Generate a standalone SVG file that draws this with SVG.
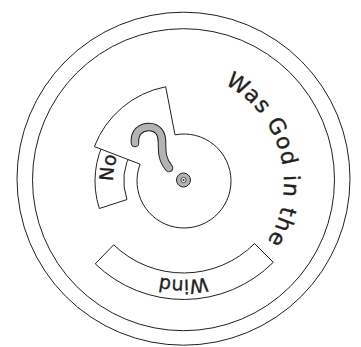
<svg xmlns="http://www.w3.org/2000/svg" width="361" height="347" viewBox="0 0 361 347">
<style>
.ln{fill:#fff;stroke:#231f20;stroke-width:1}
.ring{fill:none;stroke:#231f20;stroke-width:1}
.t{font-family:"DejaVu Sans","Liberation Sans",sans-serif;fill:#231f20;stroke:#231f20;stroke-width:0.35}
</style>
<defs>
<path id="pWas" d="M224.58,84.11 A112,112 0 0 1 228,279.99"/>
<path id="pWind" d="M291,172.5 A107.5,107.5 0 0 1 76,172.5"/>
<path id="pNo" d="M125.84,221.72 A71,71 0 0 1 143.28,122.84"/>
</defs>
<rect width="361" height="347" fill="#fff"/>
<g id="outer-ring">
<circle class="ring" cx="183.5" cy="178.7" r="166.5"/>
<circle class="ring" cx="183.5" cy="179.7" r="151"/>
</g>
<g id="title">
<text class="t" font-size="22" letter-spacing="1.2"><textPath href="#pWas">Was God in the</textPath></text>
</g>
<g id="wind-window">
<path class="ln" d="M273.3,262.3 A127,127 0 0 1 95.28,263.85 L113.69,244.79 A100.5,100.5 0 0 0 254.56,243.56 Z"/>
<text class="t" font-size="19" text-anchor="middle"><textPath href="#pWind" startOffset="50%">Wind</textPath></text>
</g>
<g id="no-window">
<path class="ln" d="M99.35,208.5 A89,89 0 0 1 106.92,136.5 L132.04,151 A60,60 0 0 0 126.93,199.54 Z"/>
<text class="t" font-size="19" text-anchor="middle"><textPath href="#pNo" startOffset="50%">No</textPath></text>
</g>
<g id="dial">
<path class="ln" d="M175.03,134.86 L165.68,86.77 A96,96 0 0 0 94.38,146.6 L140.12,164.16 A47,47 0 1 0 175.03,134.86 Z"/>
</g>
<g id="question-mark">
<path d="M135,143 C134,132 141,127 149,127 C158,127 162,134 162,142 C162,152 162,160 169,168" fill="none" stroke="#231f20" stroke-width="8.6" stroke-linecap="round"/>
<path d="M135,143 C134,132 141,127 149,127 C158,127 162,134 162,142 C162,152 162,160 169,168" fill="none" stroke="#b3b3b3" stroke-width="6.6" stroke-linecap="round"/>
</g>
<g id="pivot">
<circle cx="183.5" cy="180" r="7" fill="#b3b3b3" stroke="#231f20" stroke-width="1"/>
<circle cx="183.5" cy="180" r="2.6" fill="#fff" stroke="#231f20" stroke-width="0.8"/>
<circle cx="183.5" cy="180" r="1" fill="#231f20"/>
</g>
</svg>
